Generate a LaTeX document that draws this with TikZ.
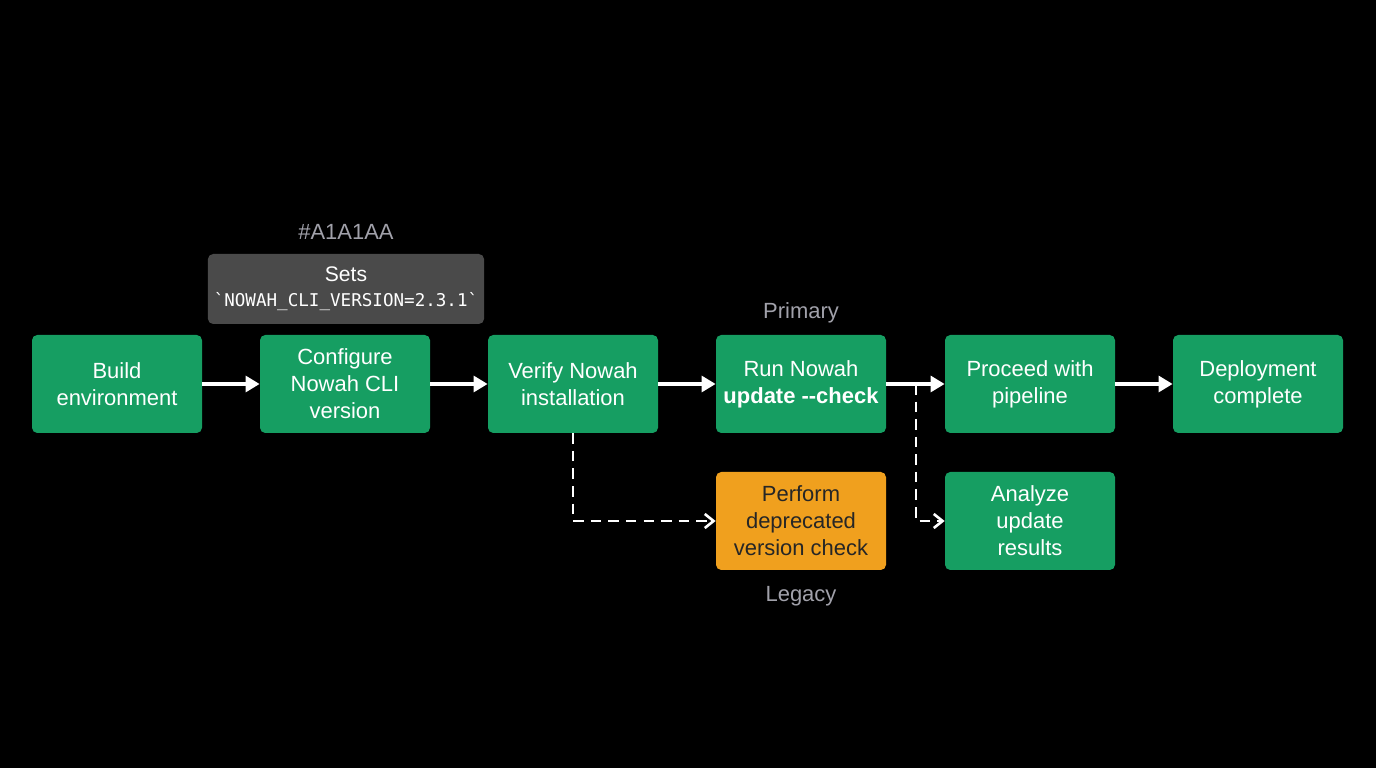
\documentclass[tikz,border=0pt]{standalone}
\usepackage{fontspec}
\setmainfont{Liberation Sans}
\setmonofont{DejaVu Sans Mono}
\usetikzlibrary{arrows.meta, positioning, calc}
\definecolor{stepcolor}{RGB}{22, 158, 98}
\definecolor{legacycolor}{RGB}{240, 160, 30}
\definecolor{notecolor}{RGB}{74, 74, 74}
\definecolor{labelcolor}{RGB}{161, 161, 170}

\tikzset{
  stage/.style={rectangle, rounded corners=3pt, fill=stepcolor, text=white, minimum width=3.4cm, minimum height=1.96cm, align=center, font=\fontsize{12.5}{15.3}\selectfont},
  legacy/.style={stage, fill=legacycolor, text=black!85},
  flow/.style={-{Triangle[length=8pt,width=9pt]}, line width=2pt, white},
  alt/.style={-{Straight Barb[length=5pt,width=8pt]}, line width=1.5pt, white, dash pattern=on 6pt off 4pt},
  tag/.style={text=labelcolor, font=\fontsize{12.5}{14}\selectfont}
}

\begin{document}
\begin{tikzpicture}
\fill[black] (0,0) rectangle (27.52,15.36);
\useasboundingbox (0,0) rectangle (27.52,15.36);

% main row
\node[stage] (build) at (2.34,7.68) {Build\\environment};
\node[stage] (config) at (6.90,7.68) {Configure\\Nowah CLI\\version};
\node[stage] (verify) at (11.46,7.68) {Verify Nowah\\installation};
\node[stage] (run) at (16.02,7.68) {Run Nowah\\\textbf{update -{}-check}};
\node[stage] (proceed) at (20.60,7.68) {Proceed with\\pipeline};
\node[stage] (deploy) at (25.16,7.68) {Deployment\\complete};

% second row
\node[legacy] (perform) at (16.02,4.94) {Perform\\deprecated\\version check};
\node[stage] (analyze) at (20.60,4.94) {Analyze\\update\\results};

% note
\node[rectangle, rounded corners=3pt, fill=notecolor, text=white, minimum width=5.4cm, minimum height=1.4cm, align=center, font=\fontsize{12}{14}\selectfont] (note) at (6.92,9.58) {Sets\\{\ttfamily\fontsize{10}{12}\selectfont `NOWAH\_CLI\_VERSION=2.3.1`}};
\node[tag] (hex) at (6.92,10.72) {\#A1A1AA};
\node[tag] (primary) at (16.02,9.10) {Primary};
\node[tag] (legacylbl) at (16.02,3.44) {Legacy};

\draw[flow] (build) -- (config);
\draw[flow] (config) -- (verify);
\draw[flow] (verify) -- (run);
\draw[flow] (run) -- (proceed);
\draw[flow] (proceed) -- (deploy);

\coordinate (fork) at (18.32,7.68);
\draw[alt] (verify.south) |- (perform.west);
\draw[alt] (fork) |- (analyze.west);
\end{tikzpicture}
\end{document}
